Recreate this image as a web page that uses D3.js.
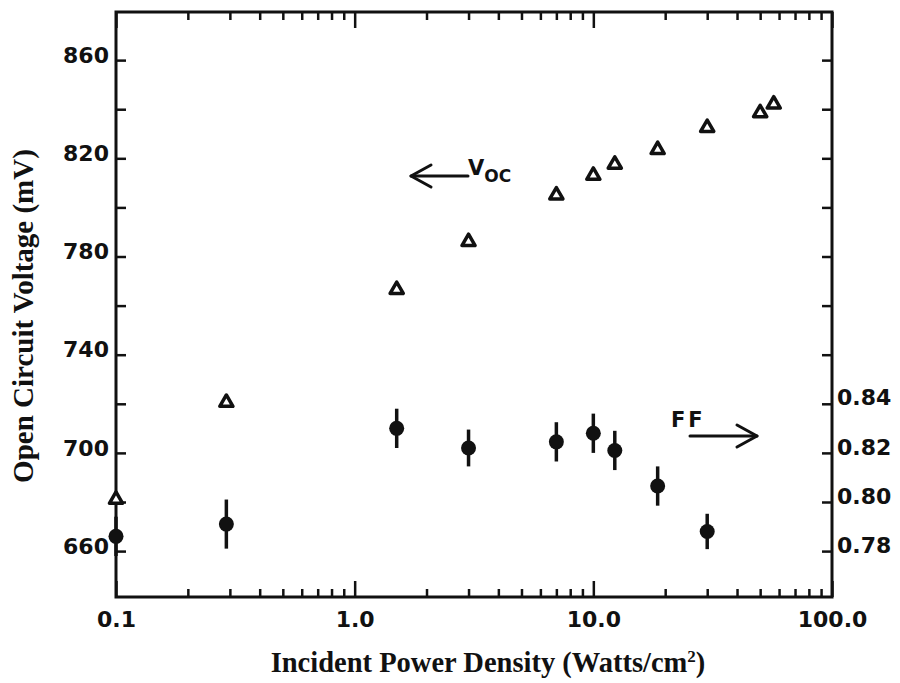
<!DOCTYPE html>
<head>
    <meta charset="utf-8">
    <title>Voc and FF vs incident power density</title>
    <style>
        body { margin: 0; background: #fff; }
        .tick text { font-family: "DejaVu Sans", sans-serif; font-weight: bold; font-size: 22px; fill: #111; }
        .title { font-family: "Liberation Serif", serif; font-weight: bold; fill: #111; }
        .note { font-family: "DejaVu Sans", sans-serif; font-weight: bold; fill: #111; }
    </style>
</head>

<body>

    <svg width="900" height="683"></svg>

    <script src="https://d3js.org/d3.v7.min.js"></script>

    <script>

        // Voc series (open triangles), left axis
        var vocPower = [0.1, 0.29, 1.5, 3.0, 7.0, 10.0, 12.3, 18.6, 30, 50, 57];
        var vocMv = [681, 720.5, 766.5, 786, 805, 813, 817.5, 823.5, 832.5, 838.5, 842];

        // fill factor series (filled circles with error bars), right axis
        var ffPower = [0.1, 0.29, 1.5, 3.0, 7.0, 10.0, 12.3, 18.6, 30];
        var ffValue = [0.786, 0.791, 0.830, 0.822, 0.8245, 0.828, 0.821, 0.8065, 0.788];
        var ffErr = [0.008, 0.010, 0.008, 0.0075, 0.008, 0.008, 0.008, 0.008, 0.0072];

        var xMajor = [0.1, 1, 10, 100];
        var xMajorLabels = ["0.1", "1.0", "10.0", "100.0"];
        var leftTicks = d3.range(660, 880, 20);
        var leftLabels = [660, 700, 740, 780, 820, 860];
        var rightTicks = d3.range(0.78, 0.99, 0.02);
        var rightLabels = ["0.78", "0.80", "0.82", "0.84"];

        var svg = d3.select("svg"),
            margin = { top: 12, right: 68, bottom: 86, left: 116 },
            width = svg.attr("width") - margin.left - margin.right,
            height = svg.attr("height") - margin.top - margin.bottom;

        var x = d3.scaleLog().domain([0.1, 100]).range([0, width]),
            yL = d3.scaleLinear().domain([641.3, 879.6]).range([height, 0]),
            yR = d3.scaleLinear().domain([0.7613, 0.9996]).range([height, 0]);

        var xMinor = [];
        [0.1, 1, 10].forEach(function (d) {
            for (var k = 2; k <= 9; k++) xMinor.push(d * k);
        });

        var g = svg.append("g")
            .attr("transform", "translate(" + margin.left + "," + margin.top + ")");

        // frame
        g.append("rect")
            .attr("width", width)
            .attr("height", height)
            .attr("fill", "none")
            .attr("stroke", "#111")
            .attr("stroke-width", 3);

        function styleAxis(sel) {
            sel.select(".domain").remove();
            sel.selectAll(".tick line").attr("stroke", "#111").attr("stroke-width", 2.5);
        }

        // bottom axis: major + minor ticks pointing inward
        g.append("g")
            .attr("transform", "translate(0," + height + ")")
            .call(d3.axisBottom(x).tickValues(xMajor).tickSize(-16).tickPadding(30)
                .tickFormat(function (d, i) { return xMajorLabels[i]; }))
            .call(styleAxis)
            .selectAll(".tick text").attr("dy", "0em");

        g.append("g")
            .attr("transform", "translate(0," + height + ")")
            .call(d3.axisBottom(x).tickValues(xMinor).tickSize(-8).tickFormat(""))
            .call(styleAxis);

        // top axis, no labels
        g.append("g")
            .call(d3.axisTop(x).tickValues(xMajor).tickSize(-16).tickFormat(""))
            .call(styleAxis);
        g.append("g")
            .call(d3.axisTop(x).tickValues(xMinor).tickSize(-8).tickFormat(""))
            .call(styleAxis);

        // left axis (mV)
        g.append("g")
            .call(d3.axisLeft(yL).tickValues(leftTicks).tickSize(-10).tickPadding(7)
                .tickFormat(function (d) { return leftLabels.indexOf(d) >= 0 ? d : ""; }))
            .call(styleAxis)
            .selectAll(".tick text").attr("dy", "0.1em");

        // right axis (FF)
        g.append("g")
            .attr("transform", "translate(" + width + ",0)")
            .call(d3.axisRight(yR).tickValues(rightTicks).tickSize(-10).tickPadding(5)
                .tickFormat(function (d) {
                    var s = d3.format(".2f")(d);
                    return rightLabels.indexOf(s) >= 0 ? s : "";
                }))
            .call(styleAxis)
            .selectAll(".tick text").attr("dy", "0.05em");

        // FF error bars and points
        var ffData = ffPower.map(function (p, i) {
            return { p: p, v: ffValue[i], e: ffErr[i] };
        });

        g.selectAll(".err")
            .data(ffData)
            .enter().append("line")
            .attr("class", "err")
            .attr("x1", function (d) { return x(d.p); })
            .attr("x2", function (d) { return x(d.p); })
            .attr("y1", function (d) { return yR(d.v - d.e); })
            .attr("y2", function (d) { return yR(d.v + d.e); })
            .attr("stroke", "#111")
            .attr("stroke-width", 3.5);

        g.selectAll(".ff")
            .data(ffData)
            .enter().append("circle")
            .attr("class", "ff")
            .attr("cx", function (d) { return x(d.p); })
            .attr("cy", function (d) { return yR(d.v); })
            .attr("r", 7.5)
            .attr("fill", "#111");

        // Voc triangles
        var tri = d3.symbol().type(d3.symbolTriangle).size(75);
        g.selectAll(".voc")
            .data(vocPower)
            .enter().append("path")
            .attr("class", "voc")
            .attr("transform", function (d, i) { return "translate(" + x(d) + "," + yL(vocMv[i]) + ")"; })
            .attr("d", tri)
            .attr("fill", "#fff")
            .attr("stroke", "#111")
            .attr("stroke-width", 3.5)
            .attr("stroke-linejoin", "round");

        // annotations: arrows
        function arrow(x1, x2, y, dir) {
            var a = g.append("g").attr("fill", "none").attr("stroke", "#111")
                .attr("stroke-width", 3).attr("stroke-linecap", "round").attr("stroke-linejoin", "round");
            a.append("line").attr("x1", x1).attr("x2", x2).attr("y1", y).attr("y2", y);
            var tip = dir < 0 ? x1 : x2;
            a.append("path")
                .attr("d", "M" + (tip - dir * 20) + "," + (y - 11) + "L" + tip + "," + y + "L" + (tip - dir * 20) + "," + (y + 11));
        }

        arrow(411 - margin.left, 468 - margin.left, 176 - margin.top, -1);
        arrow(690 - margin.left, 757 - margin.left, 436 - margin.top, 1);

        var voc = g.append("text")
            .attr("class", "note")
            .attr("x", 468 - margin.left)
            .attr("y", 175 - margin.top)
            .style("font-size", "21px");
        voc.append("tspan").text("V");
        voc.append("tspan").attr("dy", 7).style("font-size", "17px").text("OC");

        g.append("text")
            .attr("class", "note")
            .attr("x", 671 - margin.left)
            .attr("y", 427 - margin.top)
            .style("font-size", "21px")
            .style("letter-spacing", "3px")
            .text("FF");

        // axis titles
        var xt = svg.append("text")
            .attr("class", "title")
            .attr("x", 488)
            .attr("y", 672)
            .attr("text-anchor", "middle")
            .style("font-size", "28.5px")
            .text("Incident Power Density (Watts/cm");
        xt.append("tspan").attr("dy", -10).style("font-size", "17px").text("2");
        xt.append("tspan").attr("dy", 10).text(")");

        svg.append("text")
            .attr("class", "title")
            .attr("transform", "translate(33,316) rotate(-90)")
            .attr("text-anchor", "middle")
            .style("font-size", "29px")
            .text("Open Circuit Voltage (mV)");

    </script>

</body>
